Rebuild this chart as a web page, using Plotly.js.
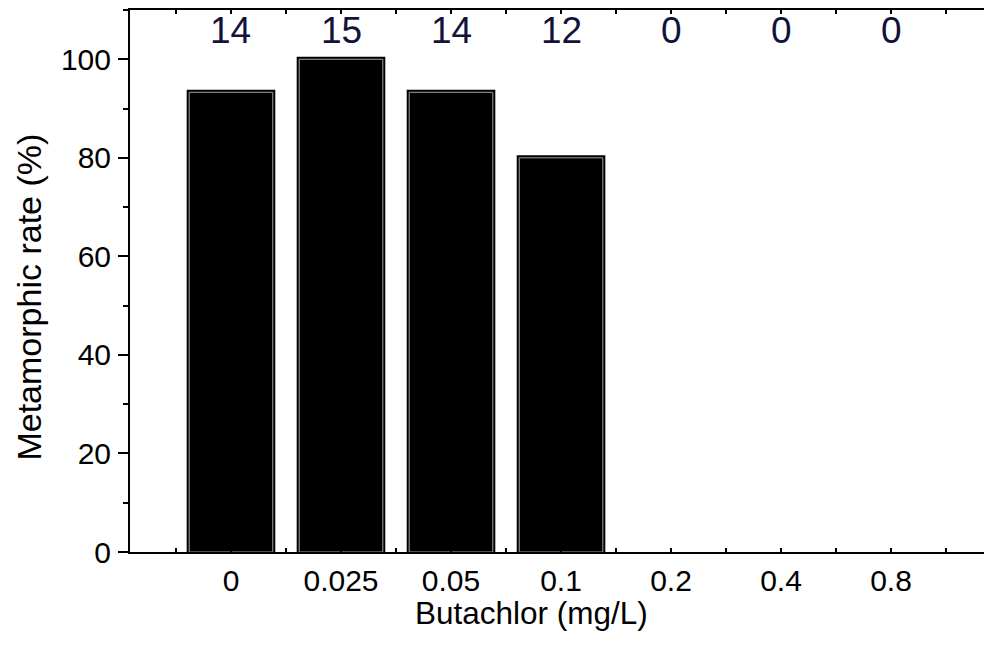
<!DOCTYPE html>
<html>
<head>
<meta charset="utf-8">
<script src="https://cdn.plot.ly/plotly-3.0.1.min.js"></script>
<style>
  html, body { margin: 0; padding: 0; background: #ffffff; }
  #chart { width: 984px; height: 659px; }
</style>
</head>
<body>
<div id="chart"></div>
<script>
// Butachlor concentrations (mg/L)
const concentrations = ['0', '0.025', '0.05', '0.1', '0.2', '0.4', '0.8'];
// Metamorphic rate (%) per concentration
const metamorphicRate = [93.3, 100, 93.3, 80, 0, 0, 0];
// Number of metamorphosed animals per concentration
const metamorphosedCount = [14, 15, 14, 12, 0, 0, 0];

const positions = concentrations.map((_, i) => i);
// groups with no metamorphosis have no visible bar
const barValues = metamorphicRate.map(v => (v > 0 ? v : null));

const FONT = 'Liberation Sans, Arial, sans-serif';

// dark outer rim of each bar
const rim = {
  type: 'bar',
  x: positions,
  y: barValues,
  width: 0.76,
  marker: { color: '#000000', line: { color: '#000000', width: 5 } },
  hoverinfo: 'skip',
  showlegend: false
};

// bar body with a light inner edge
const body = {
  type: 'bar',
  x: positions,
  y: barValues,
  width: 0.76,
  marker: { color: '#000000', line: { color: '#a0a0a0', width: 1 } },
  hovertemplate: '%{text} mg/L: %{y}%<extra></extra>',
  text: concentrations,
  textposition: 'none',
  showlegend: false
};

const countLabels = metamorphosedCount.map((n, i) => ({
  xref: 'x', yref: 'paper',
  x: i, y: 0.963,
  xanchor: 'center', yanchor: 'middle',
  text: String(n),
  showarrow: false,
  font: { family: FONT, size: 37, color: '#12123a' }
}));

const layout = {
  width: 984,
  height: 659,
  margin: { l: 130, r: 0, t: 10, b: 107 },
  paper_bgcolor: '#ffffff',
  plot_bgcolor: '#ffffff',
  barmode: 'overlay',
  font: { family: FONT, size: 30, color: '#000000' },
  xaxis: {
    range: [-0.918, 6.845],
    tickvals: positions,
    ticktext: concentrations,
    ticks: 'inside',
    ticklen: 4,
    tickwidth: 1.5,
    tickcolor: '#000000',
    minor: { dtick: 0.5, tick0: 0.5, ticks: 'inside', ticklen: 4, tickwidth: 1.5, tickcolor: '#000000' },
    showline: true,
    linewidth: 2,
    linecolor: '#000000',
    mirror: 'ticks',
    showgrid: false,
    zeroline: false,
    ticklabelstandoff: 1,
    tickfont: { family: FONT, size: 30, color: '#000000' }
  },
  yaxis: {
    range: [0, 110],
    tickvals: [0, 20, 40, 60, 80, 100],
    ticks: 'outside',
    ticklen: 10,
    tickwidth: 1.5,
    tickcolor: '#000000',
    minor: { tickvals: [10, 30, 50, 70, 90, 110], ticks: 'outside', ticklen: 5, tickwidth: 1.5, tickcolor: '#000000' },
    showline: true,
    linewidth: 2,
    linecolor: '#000000',
    showgrid: false,
    zeroline: false,
    ticklabelstandoff: 1,
    tickfont: { family: FONT, size: 30, color: '#000000' }
  },
  annotations: countLabels.concat([
    {
      xref: 'paper', yref: 'paper',
      x: 0.4696, y: -0.112,
      xanchor: 'center', yanchor: 'middle',
      text: 'Butachlor (mg/L)',
      showarrow: false,
      font: { family: FONT, size: 31.5, color: '#000000' }
    },
    {
      xref: 'paper', yref: 'paper',
      x: -0.1194, y: 0.4695,
      xanchor: 'center', yanchor: 'middle',
      textangle: -90,
      text: 'Metamorphic rate (%)',
      showarrow: false,
      font: { family: FONT, size: 34, color: '#000000' }
    }
  ])
};

Plotly.newPlot('chart', [rim, body], layout, { displayModeBar: false, responsive: false });
</script>
</body>
</html>
